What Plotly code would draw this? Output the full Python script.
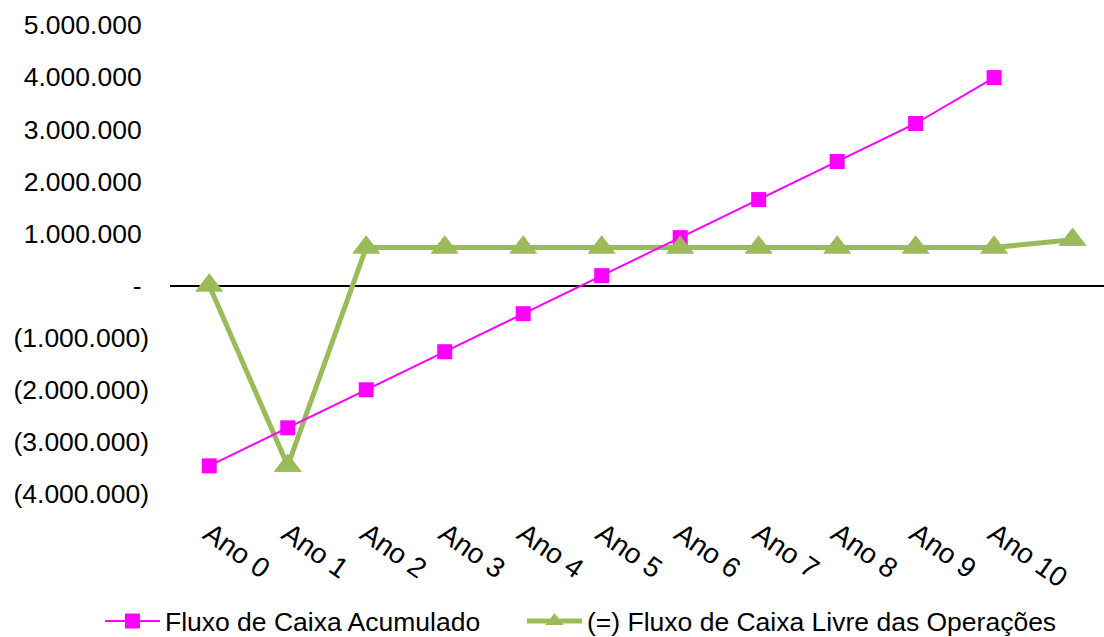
import plotly.graph_objects as go

# Categories (the last slot holds the perpetuity value, unlabelled)
anos = ["Ano 0", "Ano 1", "Ano 2", "Ano 3", "Ano 4", "Ano 5",
        "Ano 6", "Ano 7", "Ano 8", "Ano 9", "Ano 10", ""]

fluxo_acumulado = [-3460000, -2730000, -2000000, -1270000, -540000, 190000,
                   920000, 1650000, 2380000, 3110000, 3990000]

fluxo_livre = [0, -3460000, 730000, 730000, 730000, 730000,
               730000, 730000, 730000, 730000, 730000, 880000]

y_ticks = [5000000, 4000000, 3000000, 2000000, 1000000, 0,
           -1000000, -2000000, -3000000, -4000000]
y_tick_text = ["5.000.000\u00a0", "4.000.000\u00a0", "3.000.000\u00a0",
               "2.000.000\u00a0", "1.000.000\u00a0", "-\u00a0",
               "(1.000.000)", "(2.000.000)", "(3.000.000)", "(4.000.000)"]

PINK = "#FF00FF"
GREEN = "#9BBB59"
FONT = "Liberation Sans, Arial, sans-serif"
FS = 26.5

x_livre = list(range(len(fluxo_livre)))
x_acum = list(range(len(fluxo_acumulado)))

fig = go.Figure()

# green line underneath
fig.add_trace(go.Scatter(
    x=x_livre, y=fluxo_livre, mode="lines+markers",
    name="(=) Fluxo de Caixa Livre das Operações",
    line=dict(color=GREEN, width=5),
    marker=dict(symbol="triangle-up", size=24, color=GREEN),
    legendrank=2,
))

fig.add_trace(go.Scatter(
    x=x_acum, y=fluxo_acumulado, mode="lines+markers",
    name="Fluxo de Caixa Acumulado\u00a0\u00a0\u00a0\u00a0\u00a0",
    line=dict(color=PINK, width=2),
    marker=dict(symbol="square", size=15, color=PINK),
    legendrank=1,
))

# green markers on top
fig.add_trace(go.Scatter(
    x=x_livre, y=fluxo_livre, mode="markers", showlegend=False,
    marker=dict(symbol="triangle-up", size=24, color=GREEN),
    hoverinfo="skip",
))

fig.update_layout(
    width=1104, height=637,
    margin=dict(l=170, r=0, t=25, b=143, autoexpand=False),
    paper_bgcolor="white", plot_bgcolor="white",
    font=dict(family=FONT, size=FS, color="#000000"),
    showlegend=True,
    legend=dict(
        orientation="h",
        x=-0.075, xanchor="left", y=-0.22, yanchor="top",
        font=dict(family=FONT, size=FS, color="#000000"),
        itemwidth=55, tracegroupgap=0,
    ),
    xaxis=dict(
        range=[-0.5, 11.4],
        tickmode="array", tickvals=list(range(len(anos))), ticktext=anos,
        tickangle=35, showgrid=False, showline=False, zeroline=False,
        ticks="", ticklabelstandoff=17,
        tickfont=dict(family=FONT, size=28, color="#000000"),
    ),
    yaxis=dict(
        range=[-4000000, 5000000],
        tickmode="array", tickvals=y_ticks, ticktext=y_tick_text,
        showgrid=False, showline=False,
        zeroline=True, zerolinecolor="#000000", zerolinewidth=1.5,
        ticks="", ticklabelstandoff=20,
        tickfont=dict(family=FONT, size=FS, color="#000000"),
    ),
)

fig.write_html("out.html")
